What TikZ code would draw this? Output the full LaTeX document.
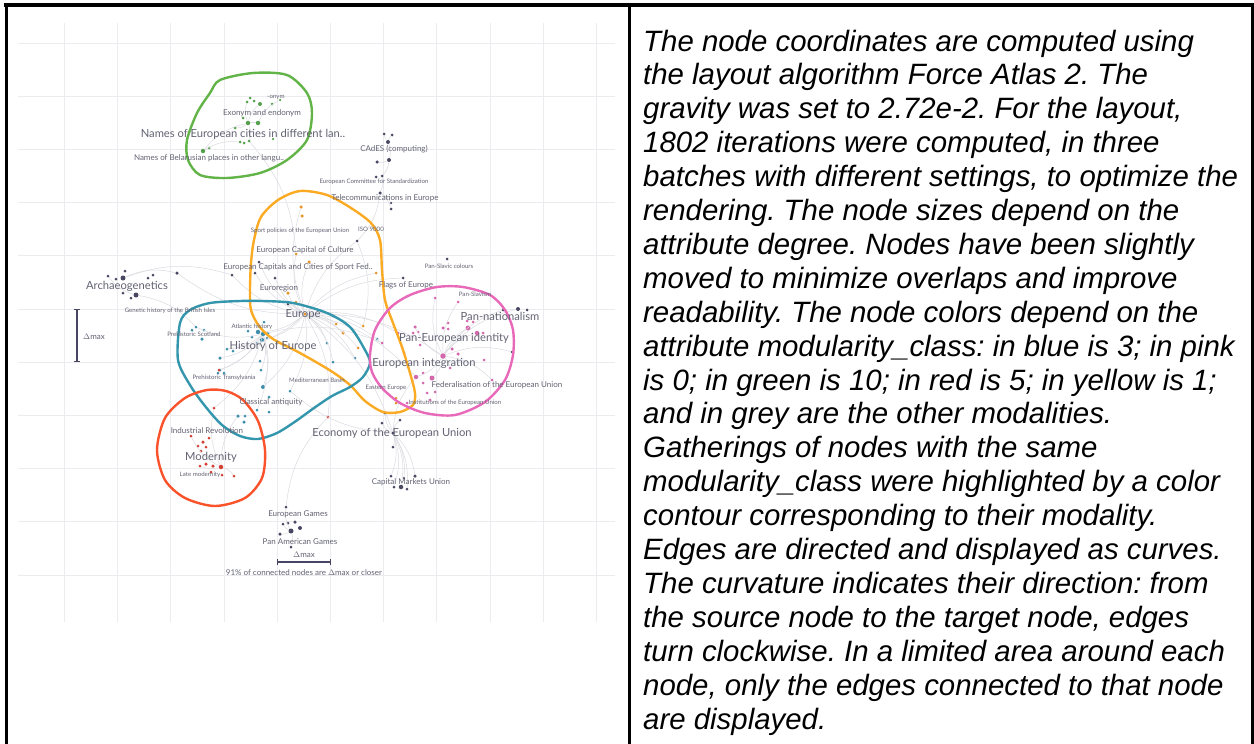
\documentclass[tikz,border=0pt]{standalone}
\usepackage{fontspec}
\usepackage{tikz}
\usetikzlibrary{arrows.meta}
\newfontfamily\mapfont{Lato}
\newfontfamily\notefont{Liberation Sans}
\definecolor{gridgray}{RGB}{236,236,240}
\definecolor{edgegray}{RGB}{218,218,224}
\definecolor{labgray}{RGB}{98,98,115}
\definecolor{greenline}{RGB}{98,180,72}
\definecolor{orangeline}{RGB}{250,170,35}
\definecolor{blueline}{RGB}{52,150,172}
\definecolor{pinkline}{RGB}{232,104,185}
\definecolor{redline}{RGB}{250,82,42}
\definecolor{gdot}{RGB}{85,160,75}
\definecolor{kdot}{RGB}{72,72,98}
\definecolor{odot}{RGB}{228,150,45}
\definecolor{bdot}{RGB}{62,142,172}
\definecolor{pdot}{RGB}{212,104,172}
\definecolor{rdot}{RGB}{212,64,52}
\definecolor{barcol}{RGB}{70,70,100}
\frenchspacing

\begin{document}
\begin{tikzpicture}[x=1pt, y=-1pt,
   gridline/.style={draw=gridgray, line width=1pt},
   edge/.style={draw=edgegray, line width=0.5pt},
   contour/.style={line width=2.4pt},
   dot/.style={circle, inner sep=0pt, draw=none},
   biglab/.style={text=labgray, inner sep=0pt, font=\mapfont\fontsize{11.2}{13}\selectfont},
   midlab/.style={text=labgray, inner sep=0pt, font=\mapfont\fontsize{8}{9.5}\selectfont},
   smalllab/.style={text=labgray, inner sep=0pt, font=\mapfont\fontsize{6.1}{7}\selectfont},
   scalebar/.style={draw=barcol, line width=1.2pt, {Bar[width=6pt]}-{Bar[width=6pt]}},
   notetext/.style={anchor=base west, inner sep=0pt, font=\notefont\itshape\fontsize{29.4}{34}\selectfont}]

   \useasboundingbox (0,0) rectangle (1254,744);

   % grid of the map
   \foreach \i in {0,...,10}
   {
     \draw[gridline] ({64.5+53.2*\i},23) -- ({64.5+53.2*\i},622);
     \draw[gridline] (18,{43+53.2*\i}) -- (615,{43+53.2*\i});
   }

   % nodes of the map
   \foreach \n/\x/\y/\s in {g1/247/102/3, g2/250/98/3, g3/254/101/3, g4/260/104/4, g5/272/104/3, g6/280/100/2.5,
      g7/248/123/4.5, g8/258/123/4.5, g9/243/118/3, g10/235/128/3, g11/240/142/3, g12/244/143/3,
      g13/249/141/3, g14/273/139/2.5, g15/203/151/4.5, g16/209/148/3}
     \node[dot, fill=gdot, minimum size=\s*1pt] (\n) at (\x,\y) {};
   \foreach \n/\x/\y/\s in {k1/384/134/3, k2/392/135/3, k3/388/142/4, k4/377/162/3.5, k5/389/160/4, k6/376/177/3,
      k7/382/176/3, k8/380/193/3.5, k9/391/203/2.5, k10/391/209/3, k11/357/241/3,
      a1/108/276/3, a2/116/279/3, a3/123/278/5, a4/125/271/3, a5/123/293/3, a6/131/298/3, a7/136/295/5,
      a8/148/278/3, a9/153/275/3, a10/177/273/3.5,
      m1/232/275/3, m2/259/262/3, m3/255/273/3, m4/275/278/3, m5/288/304/3, m6/447/259/3, m7/403/278/3,
      m8/512/352/3, m9/503/310/3, m10/518/309/4, m11/527/310/3, m12/385/413/3, m13/382/423/3,
      m14/400/420/3, m15/393/447/3, m16/393/433/3.5,
      c1/391/476/3, c2/415/476/3.5, c3/404/478/2.5, c4/394/487/3, c5/401/487/4.5, c6/407/489/3,
      e1/286/507/3, e2/283/524/3, e3/288/523/3, e4/295/522/3.5, e5/300/528/4, e6/291/531/5,
      e7/280/534/3.5, e8/291/547/3}
     \node[dot, fill=kdot, minimum size=\s*1pt] (\n) at (\x,\y) {};
   \foreach \n/\x/\y/\s in {o1/301/207/3.5, o2/302/216/3.5, o3/296/254/3, o4/309/262/3.5, o5/288/293/3.5,
      o6/296/302/3, o7/305/314/3.5, o8/336/324/3, o9/343/333/3.5, o10/363/326/3, o11/358/348/3,
      o12/376/273/3, o13/396/398/3, o14/396/403/3}
     \node[dot, fill=odot, minimum size=\s*1pt] (\n) at (\x,\y) {};
   \foreach \n/\x/\y/\s in {b1/196/327/3, b2/192/330/3, b3/204/330/3, b4/202/339/3.5, b5/264/322/3,
      b6/248/331/3, b7/258/332/4.5, b8/263/334/4.5, b9/268/333/3, b10/252/337/3, b11/262/340/4.5,
      b12/267/338/3, b13/257/343/3, b14/227/349/3, b15/233/351/3, b16/220/358/3.5, b17/260/361/3,
      b18/327/343/3, b19/333/362/3, b20/355/358/3, b21/377/339/3, b22/220/370/3, b23/218/373/3,
      b24/224/373/3, b25/261/370/3, b26/263/387/4, b27/269/397/3, b28/290/391/3, b29/257/410/3,
      b30/269/412/3, b31/238/416/3.5, b32/245/416/3, b33/244/422/3.5}
     \node[dot, fill=bdot, minimum size=\s*1pt] (\n) at (\x,\y) {};
   \foreach \n/\x/\y/\s in {p1/435/298/3, p2/458/302/3, p3/467/321/3, p4/473/322/3, p5/468/328/5,
      p6/477/333/4.5, p7/483/333/3, p8/448/323/3, p9/443/328/3.5, p10/448/329/3, p11/415/327/3.5,
      p12/418/332/3, p13/413/333/3, p14/398/333/3, p15/420/345/3, p16/443/356/5.5, p17/452/349/3.5,
      p18/458/354/3.5, p19/404/353/3, p20/382/343/3, p21/450/368/3, p22/484/360/3, p23/416/377/4.5,
      p24/432/378/5, p25/423/373/3, p26/423/383/3, p27/435/392/3, p28/427/393/3, p29/492/380/3,
      p30/407/403/3, p31/430/400/3}
     \node[dot, fill=pdot, minimum size=\s*1pt] (\n) at (\x,\y) {};
   \foreach \n/\x/\y/\s in {r1/214/408/3, r2/191/436/3, r3/209/438/3, r4/203/442/3.5, r5/198/446/3,
      r6/206/447/3, r7/201/451/3, r8/200/466/3, r9/206/464/3.5, r10/213/466/3.5, r11/221/467/4.5,
      r12/211/472/3, r13/222/475/3, r14/234/476/3, r15/328/417/3, r16/219/370/3}
     \node[dot, fill=rdot, minimum size=\s*1pt] (\n) at (\x,\y) {};

   % edges between the nodes
   \foreach \a/\b in {o7/b7, o7/b11, o7/o5, o7/o6, o7/m5, o7/o3, o7/o4, o7/m2, o7/m3, o7/m4,
      o7/o8, o7/o9, o7/o10, o7/o11, o7/b18, o7/b19, o7/b20, o7/p14, o7/p20, o7/o12, o7/m7,
      o7/k11, o7/o1, o7/a10, o7/m1, o7/b26, o7/b28, o7/r15, o7/m16, o7/p16, o7/p23, o7/b14,
      m16/c1, m16/c2, m16/c3, m16/c4, m16/c5, m16/c6, m16/m12, m16/m13, m16/m14, m16/m15,
      m16/b28, m16/p23, g7/g1, g7/g4, g7/g8, g7/g10, g7/g13, g15/g7, g15/g11, g8/g6, g13/o3,
      a3/a10, a7/b1, a3/m1, a7/a1, b8/b1, b8/b14, b8/b16, b8/b22, b8/b26, b8/b29, b8/r1,
      b8/r16, b8/b25, b8/p20, p16/p5, p16/p6, p16/p23, p16/p24, p16/p11, p16/p1, p16/p2,
      p16/m9, p16/m10, p16/m8, p16/p29, p16/p21, r11/r2, r11/r8, r11/r14, r11/b31, r11/r1,
      e6/e1, e6/e8, e6/e2, e6/e7, e1/r15, k3/k1, k3/k2, k3/k5, k5/k4, k5/k7, k7/k8, k8/k9,
      k8/k10, k8/k11, k11/o10}
     \draw[edge] (\a) to[bend left=18] (\b);

   % contours of the modularity classes
   \draw[contour, greenline] plot[smooth cycle] coordinates {(220,80) (253,73) (287,75) (307,93)
      (312,113) (307,140) (287,160) (260,173) (227,178) (200,175) (188,160) (187,140) (197,113) (210,93)};
   \draw[contour, orangeline] plot[smooth cycle] coordinates {(300,191) (327,195) (351,208) (371,223)
      (380,240) (382,270) (385,300) (393,323) (402,347) (410,373) (415,393) (413,405) (400,412)
      (383,412) (365,401) (350,385) (331,371) (300,353) (273,339) (259,326) (251,310) (250,290)
      (251,263) (254,240) (261,217) (278,200)};
   \draw[contour, blueline] plot[smooth cycle] coordinates {(180,323) (190,310) (210,303) (240,301)
      (262,301) (293,303) (327,313) (350,327) (365,350) (370,363) (363,377) (350,387) (332,396)
      (314,408) (296,421) (277,433) (258,439) (240,436) (222,425) (205,406) (190,385) (178,360)};
   \draw[contour, pinkline] plot[smooth cycle] coordinates {(370,355) (375,330) (390,308) (410,295)
      (437,287) (463,287) (490,295) (505,310) (513,330) (513,355) (505,380) (485,402) (455,415)
      (425,413) (400,403) (382,388) (372,372)};
   \draw[contour, redline] plot[smooth cycle] coordinates {(207,390) (226,391) (243,400) (258,421)
      (265,450) (262,478) (245,498) (215,506) (185,498) (165,480) (157,450) (165,418) (185,398)};

   % labels of the map
   \node[smalllab] (lOnym) at (276,97) {-onym};
   \node[midlab] (lExonym) at (262,113) {Exonym and endonym};
   \node[biglab] (lNames) at (243,134) {Names of European cities in different lan..};
   \node[midlab] (lBelarus) at (209,158) {Names of Belarusian places in other langu..};
   \node[midlab] (lCades) at (394,149) {CAdES (computing)};
   \node[smalllab] (lCen) at (374,182) {European Committee for Standardization};
   \node[midlab] (lTelecom) at (385,198) {Telecommunications in Europe};
   \node[smalllab] (lSport) at (300,231) {Sport policies of the European Union};
   \node[smalllab] (lIso) at (371,229) {ISO 9000};
   \node[midlab] (lCapCult) at (305,250) {European Capital of Culture};
   \node[midlab] (lCapSport) at (298,267) {European Capitals and Cities of Sport Fed..};
   \node[biglab] (lArch) at (127,286) {Archaeogenetics};
   \node[midlab] (lEuroreg) at (279,288) {Euroregion};
   \node[midlab] (lFlags) at (406,285) {Flags of Europe};
   \node[smalllab] (lPanSlavCol) at (449,266) {Pan-Slavic colours};
   \node[smalllab] (lPanSlav) at (475,294) {Pan-Slavism};
   \node[smalllab] (lGenetic) at (170,311) {Genetic history of the British Isles};
   \node[biglab] (lEurope) at (303,314) {Europe};
   \node[biglab] (lPanNat) at (500,316) {Pan-nationalism};
   \node[smalllab] (lPrehScot) at (194,334) {Prehistoric Scotland};
   \node[smalllab] (lAtlantic) at (252,327) {Atlantic history};
   \node[biglab] (lHistory) at (273,346) {History of Europe};
   \node[biglab] (lPanEuId) at (454,338) {Pan-European identity};
   \node[biglab] (lEuInt) at (424,363) {European integration};
   \node[smalllab] (lPrehTrans) at (224,378) {Prehistoric Transylvania};
   \node[smalllab] (lMed) at (317,380) {Mediterranean Basin};
   \node[midlab] (lFed) at (497,385) {Federalisation of the European Union};
   \node[smalllab] (lEastern) at (386,388) {Eastern Europe};
   \node[midlab] (lClassical) at (271,402) {Classical antiquity};
   \node[smalllab] (lInstit) at (455,403) {Institutions of the European Union};
   \node[midlab] (lIndustrial) at (207,431) {Industrial Revolution};
   \node[biglab] (lEconomy) at (392,433) {Economy of the European Union};
   \node[biglab] (lModernity) at (211,457) {Modernity};
   \node[smalllab] (lLateMod) at (200,475) {Late modernity};
   \node[midlab] (lCmu) at (411,482) {Capital Markets Union};
   \node[midlab] (lGames) at (298,514) {European Games};
   \node[midlab] (lPanAm) at (300,542) {Pan American Games};

   % scale bars
   \coordinate (dv1) at (77,309);
   \coordinate (dv2) at (77,362);
   \draw[scalebar] (dv1) -- (dv2);
   \node[midlab] (lDmaxV) at (94,337) {$\Delta$max};
   \coordinate (dh1) at (277,562);
   \coordinate (dh2) at (331,562);
   \draw[scalebar] (dh1) -- (dh2);
   \node[midlab] (lDmaxH) at (304,555) {$\Delta$max};
   \node[midlab] (lClose) at (304,573) {91\% of connected nodes are $\Delta$max or closer};

   % frame of the table
   \draw[line width=4.5pt] (3.5,5) -- (1254,5);
   \draw[line width=3pt] (6,3) -- (6,744);
   \draw[line width=3pt] (629.5,3) -- (629.5,744);
   \draw[line width=3pt] (1252.5,3) -- (1252.5,744);

   % caption text
   \foreach \t [count=\i] in {{The node coordinates are computed using},
      {the layout algorithm Force Atlas 2. The},
      {gravity was set to 2.72e-2. For the layout,},
      {1802 iterations were computed, in three},
      {batches with different settings, to optimize the},
      {rendering. The node sizes depend on the},
      {attribute degree. Nodes have been slightly},
      {moved to minimize overlaps and improve},
      {readability. The node colors depend on the},
      {attribute modularity\_class: in blue is 3; in pink},
      {is 0; in green is 10; in red is 5; in yellow is 1;},
      {and in grey are the other modalities.},
      {Gatherings of nodes with the same},
      {modularity\_class were highlighted by a color},
      {contour corresponding to their modality.},
      {Edges are directed and displayed as curves.},
      {The curvature indicates their direction: from},
      {the source node to the target node, edges},
      {turn clockwise. In a limited area around each},
      {node, only the edges connected to that node},
      {are displayed.}}
     \node[notetext] (note\i) at (643,{51+33.9*(\i-1)}) {\t};

\end{tikzpicture}
\end{document}
